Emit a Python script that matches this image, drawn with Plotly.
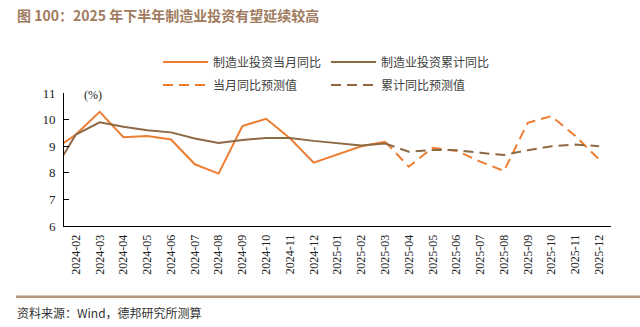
import plotly.graph_objects as go

# Categories (first one lies just left of the visible range; only its segment edge shows)
months = ["2024-01", "2024-02", "2024-03", "2024-04", "2024-05", "2024-06", "2024-07",
          "2024-08", "2024-09", "2024-10", "2024-11", "2024-12", "2025-01", "2025-02",
          "2025-03", "2025-04", "2025-05", "2025-06", "2025-07", "2025-08", "2025-09",
          "2025-10", "2025-11", "2025-12"]

monthly_actual = [8.82, 9.44, 10.29, 9.34, 9.38, 9.25, 8.32, 7.97, 9.76, 10.03, 9.3, 8.38,
                  None, 9.0, 9.17, None, None, None, None, None, None, None, None, None]
cum_actual = [7.96, 9.44, 9.9, 9.73, 9.6, 9.52, 9.29, 9.12, 9.23, 9.31, 9.31, 9.2,
              None, 9.03, 9.1, None, None, None, None, None, None, None, None, None]
monthly_fcst = [None] * 14 + [9.17, 8.23, 8.94, 8.83, 8.42, 8.07, 9.88, 10.13, 9.38, 8.5]
cum_fcst = [None] * 14 + [9.1, 8.79, 8.86, 8.85, 8.75, 8.67, 8.85, 9.0, 9.06, 9.0]

ORANGE = "#ED7D31"
BROWN = "#8E6945"
CJK = "Noto Sans CJK SC"

fig = go.Figure()
fig.add_trace(go.Scatter(x=months, y=monthly_actual, mode="lines", name="制造业投资当月同比",
                         line=dict(color=ORANGE, width=2), connectgaps=True, legend="legend"))
fig.add_trace(go.Scatter(x=months, y=cum_actual, mode="lines", name="制造业投资累计同比",
                         line=dict(color=BROWN, width=2), connectgaps=True, legend="legend"))
fig.add_trace(go.Scatter(x=months, y=monthly_fcst, mode="lines", name="当月同比预测值",
                         line=dict(color=ORANGE, width=2, dash="10px,6px"), legend="legend2"))
fig.add_trace(go.Scatter(x=months, y=cum_fcst, mode="lines", name="累计同比预测值",
                         line=dict(color=BROWN, width=2, dash="10px,6px"), legend="legend2"))

legend_common = dict(orientation="h", xref="container", yref="container", xanchor="left",
                     yanchor="middle", font=dict(family=CJK, size=12, color="#404040"),
                     bgcolor="rgba(0,0,0,0)", entrywidth=108, entrywidthmode="pixels",
                     itemwidth=45, itemclick=False)

fig.update_layout(
    width=640, height=327,
    margin=dict(l=64, r=29, t=93, b=101, autoexpand=False),
    paper_bgcolor="white", plot_bgcolor="white",
    legend=dict(x=158 / 640, y=1 - 62 / 327, **legend_common),
    legend2=dict(x=158 / 640, y=1 - 85 / 327, **legend_common),
    xaxis=dict(type="category", range=[0.5, 23.5], showgrid=False, showline=True,
               linecolor="black", linewidth=1, ticks="", tickangle=-90, ticklabelstandoff=3,
               tickfont=dict(family="Liberation Serif", size=12, color="#222")),
    yaxis=dict(range=[6, 11], dtick=1, showgrid=False, showline=True, linecolor="black",
               linewidth=1, ticks="inside", ticklen=5, tickcolor="black", zeroline=False,
               ticklabelstandoff=5,
               tickfont=dict(family="Liberation Serif", size=13, color="#222")),
    showlegend=True,
)

fig.add_annotation(text="(%)", xref="paper", yref="paper", x=(82 - 64) / 547, y=(226 - 95) / 133.3,
                   xanchor="left", yanchor="middle", showarrow=False,
                   font=dict(family="Liberation Serif", size=12, color="#222"))
fig.add_annotation(text="<b>图 100：2025 年下半年制造业投资有望延续较高</b>", xref="paper", yref="paper",
                   x=(15 - 64) / 547, y=(226 - 15) / 133.3, xanchor="left", yanchor="middle",
                   showarrow=False, font=dict(family=CJK, size=14, color="#A07B5E"))
fig.add_annotation(text="资料来源：Wind，德邦研究所测算", xref="paper", yref="paper",
                   x=(15 - 64) / 547, y=(226 - 313) / 133.3, xanchor="left", yanchor="middle",
                   showarrow=False, font=dict(family=CJK, size=12, color="#333"))
fig.add_shape(type="line", xref="paper", yref="paper", x0=(16 - 64) / 547, x1=(640 - 64) / 547,
              y0=(226 - 297) / 133.3, y1=(226 - 297) / 133.3,
              line=dict(color="#B5967C", width=2.5))

fig.write_html("out.html")
